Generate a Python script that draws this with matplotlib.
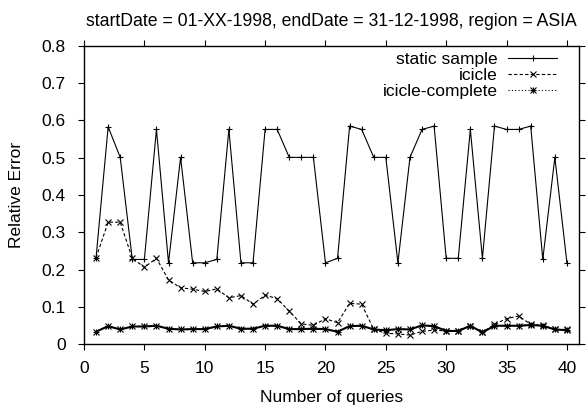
import matplotlib
matplotlib.use('Agg')
import matplotlib.pyplot as plt
from matplotlib.lines import Line2D

plt.rcParams['font.family'] = ['Liberation Sans', 'DejaVu Sans']
plt.rcParams['font.size'] = 12.5

# queries 1..40
queries = list(range(1, 41))

static_sample = [0.232, 0.583, 0.501, 0.227, 0.227, 0.576, 0.218, 0.501, 0.218, 0.218,
                 0.227, 0.576, 0.218, 0.218, 0.576, 0.576, 0.501, 0.501, 0.501, 0.218,
                 0.230, 0.585, 0.576, 0.501, 0.501, 0.218, 0.501, 0.576, 0.585, 0.230,
                 0.230, 0.576, 0.230, 0.585, 0.576, 0.576, 0.585, 0.227, 0.501, 0.218]

icicle = [0.232, 0.327, 0.327, 0.230, 0.206, 0.230, 0.172, 0.151, 0.147, 0.141,
          0.148, 0.124, 0.130, 0.107, 0.131, 0.122, 0.088, 0.054, 0.050, 0.068,
          0.057, 0.109, 0.107, 0.039, 0.029, 0.027, 0.024, 0.034, 0.037, 0.035,
          0.034, 0.049, 0.031, 0.053, 0.068, 0.075, 0.053, 0.050, 0.039, 0.039]

icicle_complete = [0.033, 0.048, 0.039, 0.047, 0.047, 0.049, 0.041, 0.039, 0.040, 0.040,
                   0.047, 0.049, 0.041, 0.041, 0.049, 0.049, 0.040, 0.040, 0.041, 0.040,
                   0.033, 0.048, 0.049, 0.039, 0.037, 0.040, 0.039, 0.050, 0.048, 0.035,
                   0.035, 0.049, 0.031, 0.049, 0.049, 0.049, 0.051, 0.049, 0.039, 0.037]

xticks = [0, 5, 10, 15, 20, 25, 30, 35, 40]
yticks = [0, 0.1, 0.2, 0.3, 0.4, 0.5, 0.6, 0.7, 0.8]
ytick_labels = ['0', '0.1', '0.2', '0.3', '0.4', '0.5', '0.6', '0.7', '0.8']

fig = plt.figure(figsize=(5.87, 4.11), dpi=100)
# plot box: x 84..579 px, y 46..344 px
ax = fig.add_axes([84/587, 1 - 344/411, (579 - 84)/587, (344 - 46)/411])

lw = 0.8
ms = 5
dash = (0, (3, 2))
dot = (0, (1, 2))
ax.plot(queries, static_sample, 'k-', marker='+', ms=ms, mew=lw, lw=lw)
ax.plot(queries, icicle, 'k', ls=dash, marker='x', ms=4, mew=lw, lw=lw)
ax.plot(queries, icicle_complete, 'k', ls=dot, marker='+', ms=ms, mew=lw, lw=lw)
ax.plot(queries, icicle_complete, 'None', marker='x', ms=4, mew=lw, color='k')

h1 = Line2D([], [], color='k', lw=lw, marker='+', ms=ms, mew=lw)
h2 = Line2D([], [], color='k', lw=lw, ls=dash, marker='x', ms=4, mew=lw)
h3a = Line2D([], [], color='k', lw=lw, ls=dot, marker='+', ms=ms, mew=lw)
h3b = Line2D([], [], color='k', ls='None', marker='x', ms=4, mew=lw)
ax.legend([h1, h2, (h3a, h3b)], ['static sample', 'icicle', 'icicle-complete'],
          loc='upper right', bbox_to_anchor=(1 - 22/495, 1 - 6/298),
          frameon=False, markerfirst=False, numpoints=1,
          handlelength=2.8, handletextpad=0.6, labelspacing=0.05,
          borderaxespad=0.0, borderpad=0.0)

ax.set_xlim(0, 41)
ax.set_ylim(0, 0.8)
ax.set_xticks(xticks)
ax.set_yticks(yticks)
ax.set_yticklabels(ytick_labels)
ax.tick_params(direction='out', top=True, right=True, length=4, width=0.8)
ax.tick_params(axis='y', pad=9)
ax.tick_params(axis='x', pad=8)
for s in ax.spines.values():
    s.set_linewidth(1.0)

ax.set_xlabel('Number of queries', labelpad=10)
ax.set_ylabel('Relative Error', labelpad=13)
ax.set_title('startDate = 01-XX-1998, endDate = 31-12-1998, region = ASIA',
             pad=14.5, fontsize=12.7)

fig.savefig('out.png', dpi=100)
